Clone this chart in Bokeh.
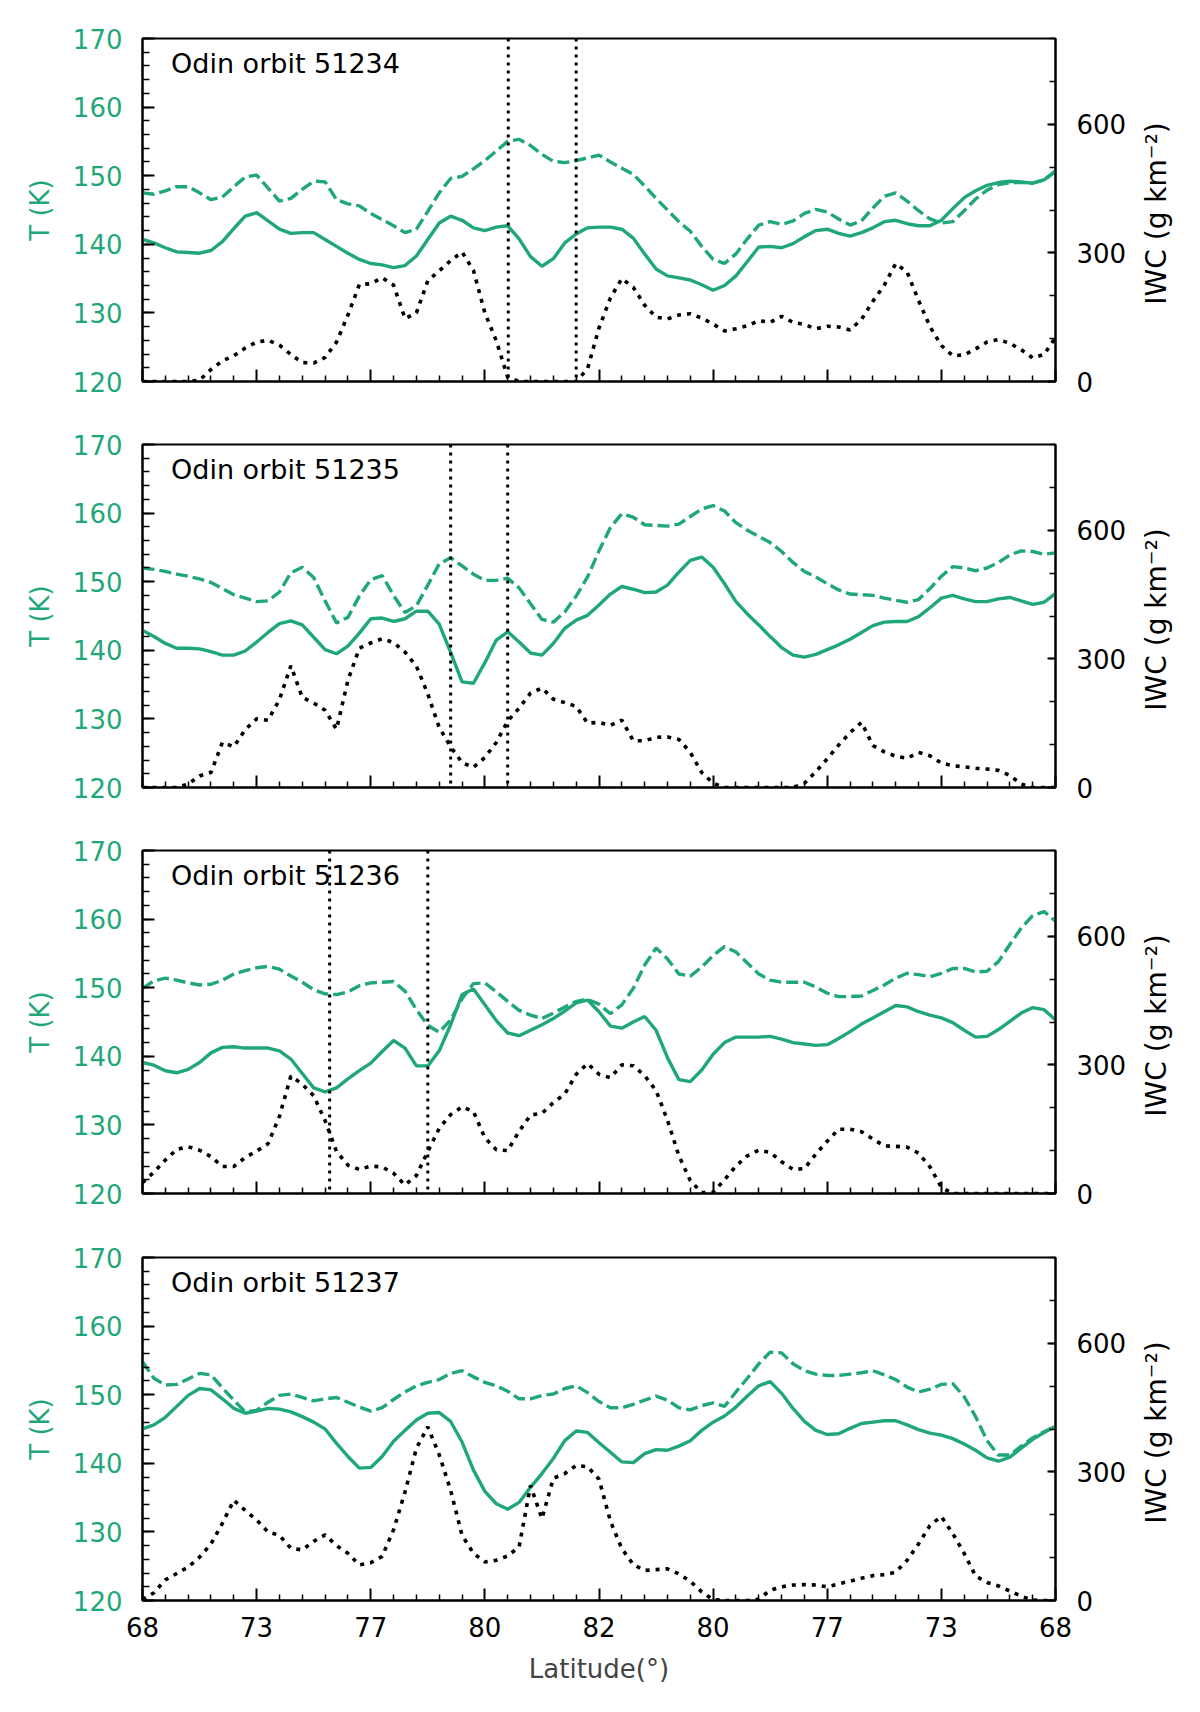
import math

from bokeh.plotting import figure
from bokeh.layouts import column, row
from bokeh.models import Range1d, LinearAxis, FixedTicker, Span, Label
from bokeh.embed import file_html
from bokeh.resources import INLINE

GREEN = "#1fa77b"
FONT = "DejaVu Sans"

# profile index along the orbit track (0 .. 80)
profile = list(range(81))
lat_ticks = [0, 10, 20, 30, 40, 50, 60, 70, 80]
lat_labels = ["68", "73", "77", "80", "82", "80", "77", "73", "68"]
t_ticks = [120, 130, 140, 150, 160, 170]
iwc_ticks = [0, 300, 600]

orbits = ["Odin orbit 51234", "Odin orbit 51235", "Odin orbit 51236", "Odin orbit 51237"]

# dotted vertical lines (profile index)
cloud_edges = [[32.05, 38.0], [27.0, 32.0], [16.4, 25.0], []]

# temperature, solid line (K)
t1_solid = [140.7, 140.2, 139.5, 138.9, 138.8, 138.7, 139.1, 140.4, 142.3, 144.1,
            144.6, 143.4, 142.2, 141.6, 141.7, 141.7, 140.7, 139.7, 138.7, 137.8,
            137.2, 137.0, 136.6, 136.9, 138.3, 140.7, 143.1, 144.1, 143.5, 142.4,
            142.0, 142.5, 142.7, 140.8, 138.2, 136.8, 137.9, 140.2, 141.5, 142.4,
            142.5, 142.5, 142.2, 140.9, 138.6, 136.4, 135.4, 135.1, 134.8, 134.1,
            133.3, 134.0, 135.4, 137.5, 139.6, 139.7, 139.5, 140.1, 141.1, 142.0,
            142.2, 141.6, 141.2, 141.7, 142.4, 143.3, 143.5, 143.0, 142.7, 142.7,
            143.5, 145.2, 146.8, 147.8, 148.6, 149.0, 149.2, 149.1, 148.9, 149.4,
            150.7]
t2_solid = [142.9, 142.0, 141.0, 140.3, 140.3, 140.2, 139.8, 139.3, 139.3, 139.9,
            141.2, 142.6, 143.9, 144.3, 143.7, 141.9, 140.1, 139.5, 140.6, 142.5,
            144.6, 144.7, 144.2, 144.6, 145.7, 145.7, 143.8, 139.7, 135.4, 135.2,
            138.2, 141.5, 142.7, 141.2, 139.6, 139.3, 141.0, 143.2, 144.4, 145.1,
            146.6, 148.2, 149.3, 148.9, 148.4, 148.5, 149.5, 151.4, 153.1, 153.6,
            152.1, 149.7, 147.1, 145.3, 143.7, 142.0, 140.4, 139.3, 139.0, 139.4,
            140.1, 140.8, 141.6, 142.6, 143.6, 144.1, 144.2, 144.2, 144.9, 146.2,
            147.6, 148.0, 147.5, 147.1, 147.1, 147.5, 147.7, 147.2, 146.7, 147.0,
            148.3]
t3_solid = [139.1, 138.7, 137.9, 137.6, 138.1, 139.1, 140.5, 141.3, 141.4, 141.2,
            141.2, 141.2, 140.8, 139.6, 137.5, 135.4, 134.8, 135.4, 136.7, 137.9,
            139.0, 140.7, 142.3, 141.2, 138.6, 138.6, 140.8, 144.6, 149.0, 149.8,
            147.5, 145.2, 143.4, 143.0, 143.8, 144.6, 145.5, 146.6, 147.8, 148.2,
            146.5, 144.4, 144.1, 145.0, 145.8, 143.8, 139.8, 136.6, 136.3, 138.0,
            140.3, 142.0, 142.8, 142.8, 142.8, 142.9, 142.5, 142.0, 141.8, 141.6,
            141.7, 142.6, 143.6, 144.7, 145.6, 146.5, 147.4, 147.2, 146.5, 146.0,
            145.6, 144.9, 143.8, 142.8, 142.9, 143.9, 145.1, 146.3, 147.1, 146.8,
            145.3]
t4_solid = [145.0, 145.6, 146.7, 148.3, 149.9, 150.9, 150.7, 149.4, 148.0, 147.3,
            147.6, 148.0, 147.9, 147.5, 146.8, 146.0, 145.0, 142.9, 141.0, 139.3,
            139.4, 141.0, 143.2, 144.8, 146.3, 147.3, 147.4, 146.1, 143.1, 139.0,
            135.9, 134.1, 133.3, 134.3, 136.5, 138.5, 140.7, 143.3, 144.7, 144.5,
            143.0, 141.6, 140.2, 140.1, 141.4, 142.0, 141.9, 142.5, 143.3, 144.8,
            146.0, 146.9, 148.2, 149.8, 151.3, 151.9, 150.2, 148.0, 146.1, 144.8,
            144.2, 144.3, 145.1, 145.8, 146.0, 146.2, 146.2, 145.6, 144.9, 144.4,
            144.1, 143.6, 142.8, 141.9, 140.8, 140.3, 140.9, 142.2, 143.5, 144.5,
            145.4]

# temperature, dashed line (K)
t1_dashed = [147.5, 147.3, 147.8, 148.4, 148.4, 147.5, 146.5, 146.9, 148.4, 149.8,
             150.1, 148.2, 146.3, 146.7, 148.0, 149.2, 149.1, 146.5, 145.9, 145.6,
             144.5, 143.6, 142.7, 141.7, 142.2, 144.8, 147.5, 149.6, 149.9, 151.0,
             152.2, 153.6, 155.0, 155.3, 154.4, 153.1, 152.1, 151.9, 152.2, 152.6,
             153.0, 152.0, 151.1, 150.2, 148.5, 146.7, 145.0, 143.3, 141.9, 139.7,
             137.8, 137.2, 138.6, 140.8, 142.8, 143.3, 142.9, 143.4, 144.5, 145.1,
             144.7, 143.7, 142.8, 143.4, 145.3, 147.0, 147.5, 146.3, 144.9, 143.7,
             143.1, 143.3, 144.9, 146.6, 147.9, 148.7, 149.0, 149.0, 148.9, 149.4,
             150.6]
t2_dashed = [152.0, 151.8, 151.5, 151.1, 150.8, 150.4, 149.9, 149.0, 148.1, 147.6,
             147.1, 147.2, 148.5, 151.3, 152.1, 150.6, 147.2, 144.0, 144.8, 147.9,
             150.3, 150.9, 148.0, 145.5, 146.5, 149.5, 152.6, 153.5, 152.3, 151.1,
             150.2, 150.2, 150.5, 149.1, 146.8, 144.5, 144.1, 145.6, 147.9, 150.7,
             154.5, 157.9, 159.9, 159.4, 158.3, 158.2, 158.1, 158.4, 159.5, 160.6,
             161.1, 160.3, 158.6, 157.5, 156.6, 155.7, 154.4, 152.8, 151.5, 150.7,
             149.7, 148.8, 148.2, 148.1, 148.0, 147.6, 147.3, 147.0, 147.4, 149.0,
             150.8, 152.2, 152.0, 151.6, 152.0, 152.8, 153.9, 154.5, 154.4, 154.0,
             154.2]
t3_dashed = [149.9, 151.0, 151.4, 151.1, 150.7, 150.4, 150.5, 151.1, 152.0, 152.5,
             152.9, 153.1, 152.7, 151.7, 150.8, 149.7, 149.1, 149.0, 149.4, 150.3,
             150.7, 150.8, 150.9, 149.5, 146.8, 144.5, 143.5, 145.3, 148.4, 150.6,
             150.7, 149.4, 148.0, 146.7, 146.0, 145.5, 146.3, 147.2, 148.0, 148.3,
             147.6, 146.2, 147.5, 149.9, 153.3, 155.8, 154.2, 152.0, 151.7, 153.0,
             154.7, 156.0, 155.2, 153.6, 152.0, 151.1, 150.8, 150.8, 150.8, 150.1,
             149.2, 148.7, 148.7, 148.8, 149.6, 150.4, 151.4, 152.1, 151.9, 151.6,
             152.1, 152.8, 152.8, 152.3, 152.4, 153.8, 156.3, 158.7, 160.5, 161.1,
             159.7]
t4_dashed = [154.8, 152.4, 151.4, 151.5, 152.3, 153.1, 152.9, 151.0, 149.2, 147.5,
             147.7, 148.9, 149.9, 150.1, 149.6, 149.1, 149.4, 149.6, 148.9, 148.2,
             147.6, 148.1, 149.3, 150.4, 151.3, 151.8, 152.2, 153.1, 153.5, 152.6,
             151.8, 151.3, 150.5, 149.4, 149.4, 149.9, 150.1, 150.9, 151.3, 150.3,
             149.0, 148.1, 148.1, 148.6, 149.2, 149.8, 149.2, 148.1, 147.8, 148.4,
             148.8, 148.3, 150.4, 152.4, 154.5, 156.2, 156.1, 154.5, 153.5, 153.0,
             152.8, 152.8, 153.0, 153.2, 153.5, 152.9, 152.2, 151.1, 150.4, 150.8,
             151.5, 151.6, 149.7, 146.8, 143.3, 141.2, 141.2, 142.5, 143.7, 144.6,
             145.4]

# ice water content, dotted line (g km-2)
iwc1 = [0, 0, 0, 0, 0, 3, 28, 48, 60, 78,
        92, 96, 85, 63, 44, 43, 56, 92, 155, 226,
        228, 242, 225, 147, 160, 235, 258, 282, 302, 259,
        160, 95, 10, 0, 0, 0, 0, 0, 0, 30,
        125, 195, 240, 220, 178, 150, 146, 155, 158, 148,
        134, 118, 123, 130, 142, 138, 152, 138, 133, 123,
        129, 127, 120, 145, 187, 225, 275, 255, 189, 128,
        84, 60, 62, 76, 92, 98, 89, 74, 55, 63,
        103]
iwc2 = [0, 0, 0, 0, 8, 27, 35, 105, 95, 135,
        160, 157, 205, 284, 210, 197, 180, 136, 250, 325,
        337, 347, 338, 316, 283, 218, 140, 95, 58, 47,
        70, 105, 155, 185, 220, 232, 206, 198, 189, 150,
        152, 145, 157, 109, 109, 117, 118, 112, 82, 35,
        10, 0, 0, 0, 0, 0, 0, 0, 10, 37,
        67, 99, 128, 152, 98, 83, 73, 68, 82, 74,
        57, 51, 48, 45, 43, 40, 28, 8, 0, 0,
        0]
iwc3 = [25, 50, 78, 103, 109, 101, 86, 63, 63, 84,
        99, 116, 180, 274, 255, 228, 170, 98, 66, 56,
        64, 62, 47, 20, 42, 98, 152, 184, 202, 191,
        130, 102, 100, 145, 183, 187, 212, 232, 278, 303,
        278, 270, 300, 298, 275, 240, 171, 88, 30, 2,
        3, 32, 64, 88, 101, 96, 74, 56, 58, 92,
        122, 150, 150, 144, 127, 111, 110, 108, 94, 62,
        14, 0, 0, 0, 0, 0, 0, 0, 0, 0,
        0]
iwc4 = [2, 18, 48, 63, 78, 101, 132, 180, 234, 210,
        188, 160, 152, 122, 118, 138, 153, 128, 110, 83,
        88, 103, 165, 253, 355, 405, 340, 257, 152, 110,
        90, 94, 104, 125, 268, 191, 285, 296, 315, 312,
        283, 185, 121, 84, 70, 72, 74, 62, 45, 20,
        2, 0, 0, 0, 3, 24, 32, 36, 37, 36,
        32, 39, 45, 52, 58, 60, 66, 94, 132, 175,
        196, 156, 110, 57, 42, 34, 22, 10, 1, 0,
        0]

t_solid = [t1_solid, t2_solid, t3_solid, t4_solid]
t_dashed = [t1_dashed, t2_dashed, t3_dashed, t4_dashed]
iwc = [iwc1, iwc2, iwc3, iwc4]

lat_minor = [t for t in range(0, 81, 2) if t not in lat_ticks]


def style_axis(ax, major_in, minor_in, color):
    ax.major_tick_in = major_in
    ax.major_tick_out = 0
    ax.minor_tick_in = minor_in
    ax.minor_tick_out = 0
    ax.major_tick_line_width = 2
    ax.minor_tick_line_width = 1.5
    ax.axis_line_width = 2
    ax.major_label_text_font = FONT
    ax.major_label_text_font_size = "26px"
    ax.major_label_text_color = color


def borders(i):
    top = 38 if i == 0 else (31 if i == 3 else 30)
    bottom = 100 if i == 3 else 33
    return top, bottom


def make_panel(i):
    last = i == 3
    top, bottom = borders(i)
    p = figure(
        frame_width=913,
        frame_height=343,
        x_range=Range1d(0, 80),
        y_range=Range1d(120, 170),
        output_backend="svg",
        toolbar_location=None,
        min_border_left=142,
        min_border_right=75,
        min_border_top=top,
        min_border_bottom=bottom,
    )
    p.grid.visible = False
    p.outline_line_color = "black"
    p.outline_line_width = 2
    p.background_fill_color = "white"
    p.border_fill_color = "white"

    # left axis: temperature
    left = p.yaxis[0]
    left.ticker = FixedTicker(ticks=t_ticks, minor_ticks=list(range(120, 171, 2)))
    style_axis(left, 12, 7, GREEN)
    left.major_label_standoff = 20
    left.axis_label = "T (K)"
    left.axis_label_text_color = GREEN
    left.axis_label_text_font = FONT
    left.axis_label_text_font_size = "26px"
    left.axis_label_text_font_style = "normal"
    left.axis_label_standoff = 15

    # bottom axis: latitude
    xa = p.xaxis[0]
    style_axis(xa, 12, 6, "black")
    if last:
        xa.ticker = FixedTicker(ticks=lat_ticks, minor_ticks=lat_minor)
        xa.major_label_overrides = {t: lab for t, lab in zip(lat_ticks, lat_labels)}
        xa.major_label_standoff = 16
        xa.axis_label = "Latitude(°)"
        xa.axis_label_text_font = FONT
        xa.axis_label_text_font_size = "26px"
        xa.axis_label_text_font_style = "normal"
        xa.axis_label_standoff = 14
    else:
        # shared x axis without labels: short ticks here, long ticks on a second axis
        xa.ticker = FixedTicker(ticks=[], minor_ticks=lat_minor)
        xa.major_label_standoff = 0
        xlong = LinearAxis(ticker=FixedTicker(ticks=[], minor_ticks=lat_ticks))
        style_axis(xlong, 12, 12, "black")
        xlong.minor_tick_line_width = 2
        xlong.axis_line_color = None
        xlong.major_label_standoff = 0
        p.add_layout(xlong, "below")

    # right axis: ice water content
    p.extra_y_ranges = {"iwc": Range1d(0, 800)}
    right = LinearAxis(y_range_name="iwc")
    right.ticker = FixedTicker(ticks=iwc_ticks, minor_ticks=list(range(0, 801, 100)))
    style_axis(right, 8, 6, "black")
    right.major_label_standoff = 21
    p.add_layout(right, "right")

    p.line(profile, t_solid[i], line_color=GREEN, line_width=3.4)
    p.line(profile, t_dashed[i], line_color=GREEN, line_width=3.4, line_dash="12 5")
    p.line(profile, iwc[i], line_color="black", line_width=3.6, line_dash="4 6",
           y_range_name="iwc")

    for loc in cloud_edges[i]:
        p.add_layout(Span(location=loc, dimension="height", line_color="black",
                          line_width=3, line_dash="3 5"))

    p.add_layout(Label(x=2.5, y=166.3, text=orbits[i], text_font=FONT,
                       text_font_size="27px", text_color="black",
                       text_align="left", text_baseline="alphabetic"))
    return p


def make_side(i):
    # narrow strip holding the rotated right-hand axis title
    top, bottom = borders(i)
    s = figure(
        frame_width=60,
        frame_height=343,
        x_range=Range1d(0, 60),
        y_range=Range1d(120, 170),
        x_axis_location=None,
        y_axis_location=None,
        output_backend="svg",
        toolbar_location=None,
        min_border_left=0,
        min_border_right=0,
        min_border_top=top,
        min_border_bottom=bottom,
    )
    s.grid.visible = False
    s.outline_line_color = None
    s.background_fill_color = "white"
    s.border_fill_color = "white"
    s.add_layout(Label(x=26, y=144.5, text="IWC (g km⁻²)", angle=math.pi / 2,
                       text_font=FONT, text_font_size="28px", text_color="black",
                       text_align="center", text_baseline="middle"))
    return s


layout = column(*[row(make_panel(i), make_side(i)) for i in range(4)])
open("out.html", "w").write(file_html(layout, INLINE))
